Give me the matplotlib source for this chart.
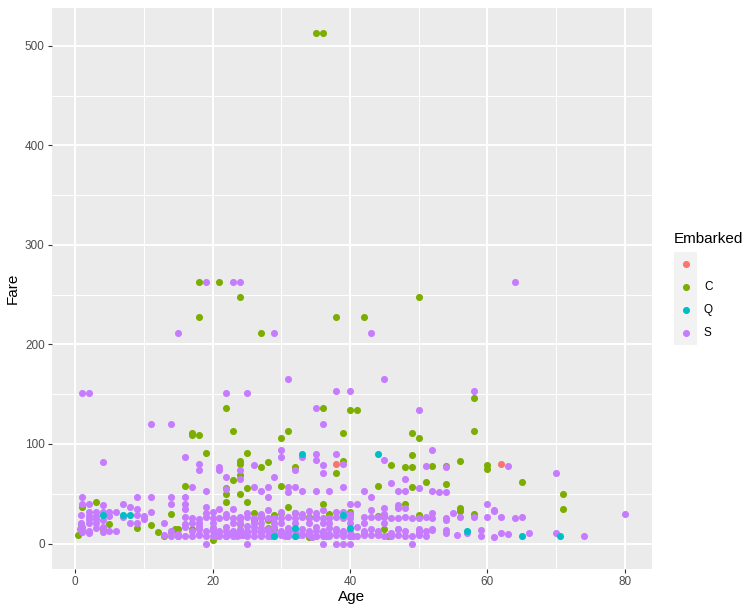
import matplotlib
matplotlib.use("Agg")
import matplotlib.pyplot as plt
from matplotlib.ticker import MultipleLocator
from matplotlib.patches import Rectangle
from matplotlib.lines import Line2D

plt.rcParams["font.family"] = ["Liberation Sans", "DejaVu Sans"]

# colori ggplot2 (hue a 4 livelli)
COL_BLANK = "#F8766D"
COL_C = "#7CAE00"
COL_Q = "#00BFC4"
COL_S = "#C77CFF"

# --- dati (Age, Fare) per porto d'imbarco ---
c_age = [35, 36, 18, 21, 24, 50, 18, 38, 42, 27, 58, 22, 36, 40, 41, 23, 31, 58,
         17, 17, 18, 30, 39, 49, 50, 19, 25, 49, 24, 24, 24, 28, 39, 27, 32, 46,
         48, 49, 52, 54, 56, 60, 60, 38, 65, 23, 51, 54, 16, 30, 44, 49, 22, 25,
         22, 24, 71, 22, 25, 3, 31, 36, 48, 1, 71, 56, 56, 58, 14, 26, 29, 30,
         32, 37, 40, 44, 45, 50, 27, 28, 29, 5, 9, 11, 12, 13, 14, 14.5, 15, 15,
         17, 20, 20, 22, 24, 26, 28, 29, 34, 35, 40, 45, 45.5, 0.42, 0.83, 34, 35,
         4]
c_fare = [512.33, 512.33, 262.38, 262.38, 247.52, 247.52, 227.53, 227.53, 227.53,
          211.5, 146.52, 135.63, 135.63, 134.5, 134.5, 113.28, 113.28, 113.28,
          110.88, 108.9, 108.9, 106.43, 110.88, 110.88, 106.43, 91.08, 91.08, 89.1,
          83.16, 79.65, 69.3, 82.17, 83.16, 76.73, 76.73, 79.2, 76.73, 76.73, 78.27,
          78.27, 83.16, 79.2, 75.25, 71.28, 61.98, 63.36, 61.38, 59.4, 57.98, 57.98,
          57.75, 56.93, 55.44, 55.44, 49.5, 49.5, 49.5, 41.58, 41.58, 41.58, 37.0,
          40.13, 39.6, 37.0, 34.65, 35.5, 32.32, 29.7, 30.07, 30.7, 29.0, 30.7,
          30.7, 29.7, 31.68, 27.72, 29.0, 29.0, 27.72, 24.0, 28.0, 19.26, 15.25,
          18.79, 11.24, 7.23, 11.24, 14.45, 14.45, 7.23, 14.46, 15.74, 4.01, 7.23,
          19.26, 24.0, 15.74, 14.45, 6.44, 7.9, 7.23, 14.45, 7.23, 8.52, 19.26,
          26.55, 26.55, 14.45]

q_age = [4, 7, 8, 29, 32, 32, 33, 39, 40, 44, 57, 65, 70.5]
q_fare = [29.13, 29.13, 29.13, 7.75, 15.5, 7.75, 90.0, 29.13, 15.5, 90.0, 12.35,
          7.75, 7.75]

blank_age = [38, 62]
blank_fare = [80.0, 80.0]

s_age = [
    # tariffe alte
    19, 23, 24, 64, 15, 29, 43, 31, 45, 1, 2, 22, 25, 38, 40, 58, 35, 50,
    11, 14, 36, 4, 16, 18, 18, 21, 21, 22, 24, 24, 26, 29, 30, 30, 33, 35,
    35, 36, 36, 38, 39, 32, 45, 48, 51, 52, 54, 63, 70, 46,
    17, 19, 22, 27, 26, 28, 28, 31, 31, 32, 33, 35, 37, 39, 42, 43, 47, 48,
    50, 52, 53, 54, 1, 9, 11, 14, 16,
    1, 2, 4, 7, 8, 9, 9, 10, 10, 11, 14, 16, 16, 16, 16, 19, 19, 19, 21, 22,
    18, 18, 18, 13, 24, 24, 25, 25, 25, 38, 40, 40, 41, 45, 47, 47, 48, 52, 55,
    54, 60, 61, 61, 56, 58, 60, 62, 64, 65, 57, 59, 59, 61, 62, 63, 66, 70, 74,
    80,
    # bambini
    0.83, 2, 2, 2, 2, 2, 3, 3, 3, 3, 3, 4, 4, 4, 4, 5, 5, 6, 5, 6, 7, 8, 9, 1,
    1, 2, 1, 0.92, 0.67,
    # fascia ~8
    13, 14, 15, 16, 17, 18, 19, 20, 21, 22, 23, 24, 25, 26, 27, 28, 29, 30, 31,
    32, 33, 34, 35, 36, 37, 38, 39, 40, 41, 42, 43, 44, 45, 46, 47, 48, 49, 50,
    51, 55.5, 20.5, 22.5, 23.5, 24.5, 28.5, 30.5, 32.5, 34.5, 36.5, 40.5,
    # fascia ~10
    15, 18, 21, 23, 24, 25, 27, 29, 30, 31, 33, 34, 36, 37, 39, 42, 44, 46, 50,
    54,
    # fascia 13
    14, 17, 19, 20, 21, 22, 23, 24, 25, 26, 27, 28, 30, 31, 32, 34, 35, 36, 38,
    39, 40, 42, 44, 47, 48, 50, 51, 52, 54,
    # fascia ~15
    16, 18, 20, 22, 24, 26, 27, 28, 29, 31, 33, 35, 37, 38, 41, 43, 47, 50, 52,
    # fascia ~21
    17, 20, 23, 24, 26, 27, 29, 30, 32, 34, 36, 37, 40, 42, 45,
    # fascia 26
    17, 20, 21, 22, 23, 26, 27, 28, 29, 30, 31, 32, 33, 34, 35, 36, 37, 38, 39,
    40, 42, 43, 44, 45, 46, 47, 48, 49, 50, 51, 52, 54,
    # fascia ~31
    20, 23, 27, 28, 30, 32, 33, 34, 35, 36, 39, 40, 43, 45,
    # tariffa zero
    19, 25, 36, 38, 39, 40, 49,
]
s_fare = [
    263.0, 263.0, 263.0, 263.0, 211.34, 211.34, 211.34, 164.87, 164.87, 151.55,
    151.55, 151.55, 151.55, 153.46, 153.46, 153.46, 135.63, 133.65,
    120.0, 120.0, 120.0, 81.86, 86.5, 79.65, 73.5, 77.29, 73.5, 66.6, 73.5, 65.0,
    78.85, 66.6, 93.5, 86.5, 86.5, 90.0, 83.48, 79.25, 71.0, 90.0, 79.65, 73.5,
    83.48, 65.0, 77.96, 93.5, 77.29, 77.96, 71.0, 61.18,
    57.0, 53.1, 55.0, 53.1, 56.5, 56.5, 47.1, 56.5, 51.86, 56.5, 53.1, 53.1,
    53.1, 56.5, 52.55, 47.1, 52.55, 52.55, 55.9, 53.1, 51.86, 51.86,
    46.9, 46.9, 46.9, 46.9, 46.9,
    39.69, 39.69, 39.0, 39.69, 36.75, 34.38, 29.13, 27.9, 24.15, 31.39, 39.69,
    39.69, 34.38, 26.25, 19.5, 37.0, 30.5, 26.55, 34.38, 29.7,
    24.15, 20.5, 17.8, 20.25, 27.0, 24.15, 30.5, 26.55, 17.8, 32.0, 39.4, 29.0,
    40.0, 35.5, 39.0, 35.5, 35.5, 30.5, 30.5,
    24.0, 39.69, 33.5, 32.32, 26.55, 26.55, 26.55, 26.55, 26.0, 26.55, 10.5,
    13.5, 7.25, 6.24, 10.5, 9.59, 10.5, 10.5, 7.78, 30.0,
    # bambini
    29.0, 31.39, 27.9, 24.15, 20.58, 12.29, 31.39, 27.9, 24.15, 21.08, 15.9,
    31.39, 23.45, 16.7, 11.13, 31.39, 27.75, 31.28, 12.47, 12.47, 26.25, 21.08,
    21.08, 16.7, 13.78, 10.46, 11.13, 20.58, 14.5,
    # fascia ~8
    8.05, 7.85, 8.03, 7.75, 7.05, 8.3, 7.78, 7.92, 7.8, 7.25, 7.55, 8.05, 7.05,
    7.9, 7.22, 7.9, 7.78, 8.05, 7.77, 7.92, 8.66, 8.05, 7.12, 7.5, 7.92, 8.66,
    7.92, 7.9, 7.12, 8.4, 8.05, 8.05, 7.75, 7.25, 9.0, 7.85, 7.9, 8.05, 7.05,
    8.05, 7.25, 9.35, 7.23, 8.05, 7.23, 7.9, 8.05, 6.98, 7.25, 7.25,
    # fascia ~10
    9.5, 9.5, 10.5, 10.5, 10.5, 10.5, 10.5, 10.5, 10.5, 9.5, 9.5, 10.5, 10.5,
    9.5, 10.5, 10.5, 9.5, 10.5, 10.5, 10.5,
    # fascia 13
    13.0, 13.0, 13.0, 13.0, 13.0, 13.0, 13.0, 13.0, 13.0, 13.0, 13.0, 13.0, 13.0,
    13.0, 13.0, 13.0, 13.0, 13.0, 13.0, 13.0, 13.0, 13.0, 13.0, 14.5, 13.0,
    13.0, 12.52, 13.5, 14.0,
    # fascia ~15
    16.1, 14.45, 15.85, 16.1, 14.5, 16.1, 15.5, 14.5, 16.1, 15.85, 14.4, 16.1,
    15.5, 14.5, 16.1, 14.5, 15.0, 14.5, 14.5,
    # fascia ~21
    21.0, 21.0, 21.0, 20.25, 21.0, 20.5, 21.0, 20.25, 21.0, 21.0, 20.5, 21.0,
    20.5, 21.0, 20.5,
    # fascia 26
    26.0, 26.0, 26.0, 26.55, 26.0, 26.0, 26.0, 26.0, 26.0, 26.0, 26.25, 26.0,
    26.55, 26.0, 26.0, 26.0, 26.0, 26.55, 26.0, 26.0, 26.55, 26.55, 26.55, 26.55,
    26.0, 26.0, 26.55, 26.0, 26.0, 26.55, 26.0, 26.0,
    # fascia ~31
    31.28, 34.38, 30.0, 34.0, 31.39, 30.5, 30.0, 32.5, 31.0, 34.0, 31.28, 30.0,
    34.02, 30.0,
    # tariffa zero
    0.0, 0.0, 0.0, 0.0, 0.0, 0.0, 0.0,
]

legend_labels = ["", "C", "Q", "S"]
legend_colors = [COL_BLANK, COL_C, COL_Q, COL_S]

W, H = 755, 610
fig = plt.figure(figsize=(W / 100, H / 100), dpi=100)
ax = fig.add_axes([52 / W, (H - 569) / H, 600 / W, 561 / H])
ax.set_facecolor("#EBEBEB")
for sp in ax.spines.values():
    sp.set_visible(False)

# ordine di disegno: C sotto, poi S, Q e vuoti sopra
PT = 26
ax.scatter(c_age, c_fare, s=PT, color=COL_C, linewidths=0, zorder=3)
ax.scatter(s_age, s_fare, s=PT, color=COL_S, linewidths=0, zorder=3)
ax.scatter(q_age, q_fare, s=PT, color=COL_Q, linewidths=0, zorder=3)
ax.scatter(blank_age, blank_fare, s=PT, color=COL_BLANK, linewidths=0, zorder=3)

ax.set_xlim(-3.35, 83.93)
ax.set_ylim(-25.6, 537.9)
ax.xaxis.set_major_locator(MultipleLocator(20))
ax.xaxis.set_minor_locator(MultipleLocator(10))
ax.yaxis.set_major_locator(MultipleLocator(100))
ax.yaxis.set_minor_locator(MultipleLocator(50))
ax.grid(which="major", color="white", linewidth=1.4, zorder=0)
ax.grid(which="minor", color="white", linewidth=0.7, zorder=0)
ax.set_axisbelow(True)
ax.tick_params(which="major", length=2.7, width=0.8, color="#333333",
               labelsize=8.5, labelcolor="#4D4D4D", pad=2.5)
ax.tick_params(which="minor", length=0)

ax.set_xlabel("Age", fontsize=11, color="black", labelpad=1)
ax.set_ylabel("Fare", fontsize=11, color="black", labelpad=4)

# legenda disegnata a mano (stile ggplot)
fig.text(674 / W, 1 - 239 / H, "Embarked", fontsize=11, ha="left", va="center")
fig.patches.append(Rectangle((674 / W, 1 - 345 / H), 23 / W, 93 / H,
                             transform=fig.transFigure, facecolor="#F2F2F2",
                             edgecolor="none"))
for i, (lab, col) in enumerate(zip(legend_labels, legend_colors)):
    yk = 1 - (264 + 23 * i) / H
    fig.add_artist(Line2D([685.5 / W], [yk], marker="o", markersize=5.1,
                          color=col, markeredgewidth=0, linestyle="none",
                          transform=fig.transFigure))
    fig.text(704 / W, yk, lab, fontsize=8.5, ha="left", va="center")

fig.savefig("out.png", dpi=100)
